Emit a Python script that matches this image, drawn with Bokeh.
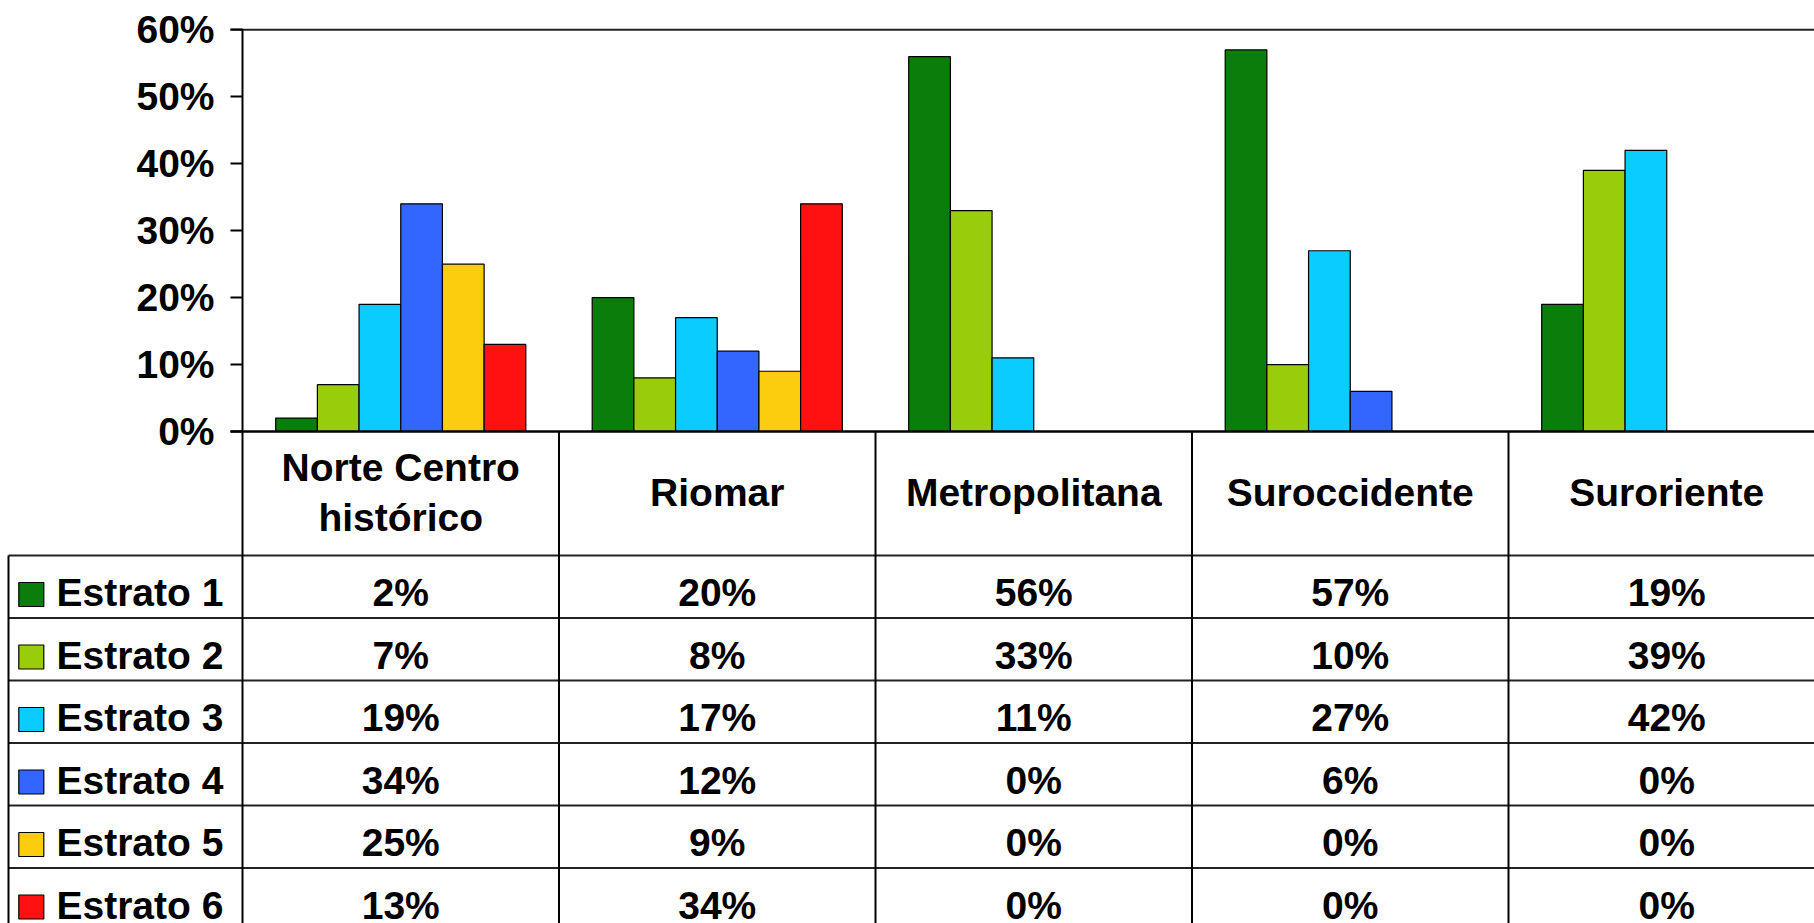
from bokeh.plotting import figure
from bokeh.models import Range1d, NumeralTickFormatter, FixedTicker, LinearAxis
from bokeh.embed import file_html
from bokeh.resources import INLINE
from bokeh.core.properties import value

# ---------------- data ----------------
zones = ["Norte Centro\nhistórico", "Riomar", "Metropolitana", "Suroccidente", "Suroriente"]
series = ["Estrato 1", "Estrato 2", "Estrato 3", "Estrato 4", "Estrato 5", "Estrato 6"]
estrato1 = [2, 20, 56, 57, 19]
estrato2 = [7, 8, 33, 10, 39]
estrato3 = [19, 17, 11, 27, 42]
estrato4 = [34, 12, 0, 6, 0]
estrato5 = [25, 9, 0, 0, 0]
estrato6 = [13, 34, 0, 0, 0]
values = [estrato1, estrato2, estrato3, estrato4, estrato5, estrato6]
colors = ["#0B7D0B", "#99CC0A", "#0ACCFF", "#3366FF", "#FCCC0E", "#FF1111"]
y_ticks = [0, 10, 20, 30, 40, 50, 60]

# ---------------- layout constants (page pixels) ----------------
FONT = "Liberation Sans"
FS = "39px"
W, H = 1814, 923
AXIS_X = 242.0        # page x of the value axis
COL_PX = 316.5        # width of one zone column
ZERO_Y = 431.0        # page y of 0 %
PX_PER_UNIT = 669.5   # pixels per 100 %
BAR_W = 0.1317
HEAD_BOTTOM = 555.0
ROW_H = 62.5


def xd(px):
    return (px - AXIS_X) / COL_PX


def yd(py):
    return -(py - ZERO_Y) / PX_PER_UNIT


x_end = xd(W)
p = figure(width=W, height=H, output_backend="svg", toolbar_location=None,
           x_range=Range1d(xd(0), x_end), y_range=Range1d(yd(H), yd(0)),
           x_axis_location=None, y_axis_location=None, min_border=0)
p.outline_line_color = None
p.grid.visible = False
p.background_fill_color = "white"
p.border_fill_color = "white"

ax = LinearAxis(fixed_location=0, bounds=(0, 0.6))
ax.ticker = FixedTicker(ticks=[t / 100 for t in y_ticks])
ax.formatter = NumeralTickFormatter(format="0%")
ax.axis_line_width = 2
ax.axis_line_color = "black"
ax.major_tick_line_width = 2
ax.major_tick_line_color = "black"
ax.major_tick_out = 12
ax.major_tick_in = 0
ax.minor_tick_line_color = None
ax.major_label_standoff = 16
ax.major_label_text_font = FONT
ax.major_label_text_font_style = "bold"
ax.major_label_text_font_size = FS
ax.major_label_text_color = "black"
p.add_layout(ax, "left")

# bars
for j, (vals, col) in enumerate(zip(values, colors)):
    xs = [i + 0.5 + (j - 2.5) * BAR_W for i in range(len(zones))]
    p.vbar(x=xs, top=[v / 100 for v in vals], bottom=0, width=BAR_W,
           fill_color=col, line_color="black", line_width=1.2)

# plot area top line and base line
p.segment(x0=[xd(AXIS_X - 12)], y0=[0.6], x1=[x_end + 1], y1=[0.6],
          line_color="#222222", line_width=2)
p.segment(x0=[xd(AXIS_X - 12)], y0=[0], x1=[x_end + 1], y1=[0],
          line_color="black", line_width=2.5)

# ---------------- data table ----------------
x_left = xd(8)
n_rows = len(series)
hy = [yd(HEAD_BOTTOM + ROW_H * k) for k in range(n_rows + 1)]
p.segment(x0=[x_left] * len(hy), y0=hy, x1=[x_end + 1] * len(hy), y1=hy,
          line_color="#222222", line_width=2)
p.segment(x0=list(range(len(zones))), y0=[0] * len(zones),
          x1=list(range(len(zones))), y1=[yd(H + 20)] * len(zones),
          line_color="black", line_width=2)
p.segment(x0=[x_left], y0=[yd(HEAD_BOTTOM)], x1=[x_left], y1=[yd(H + 20)],
          line_color="black", line_width=2)

# header labels
p.text(x=[i + 0.5 for i in range(len(zones))], y=[yd(492)] * len(zones), text=zones,
       text_font=value(FONT), text_font_style="bold", text_font_size=FS,
       text_align="center", text_baseline="middle", text_line_height=1.14,
       text_color="black")

# values
vx, vy, vt = [], [], []
for k, vals in enumerate(values):
    for i, v in enumerate(vals):
        vx.append(i + 0.5)
        vy.append(yd(HEAD_BOTTOM + ROW_H * k + 37))
        vt.append(f"{v}%")
p.text(x=vx, y=vy, text=vt, text_font=value(FONT), text_font_style="bold",
       text_font_size=FS, text_align="center", text_baseline="middle",
       text_color="black")

# legend keys and series names
p.rect(x=[xd(30.8)] * n_rows,
       y=[yd(HEAD_BOTTOM + ROW_H * k + 39) for k in range(n_rows)],
       width=25, height=24, width_units="screen", height_units="screen",
       fill_color=colors, line_color="black", line_width=1.2)
p.text(x=[xd(56)] * n_rows,
       y=[yd(HEAD_BOTTOM + ROW_H * k + 37) for k in range(n_rows)],
       text=series, text_font=value(FONT), text_font_style="bold",
       text_font_size=FS, text_align="left", text_baseline="middle",
       text_color="black")

open("out.html", "w").write(file_html(p, INLINE))
